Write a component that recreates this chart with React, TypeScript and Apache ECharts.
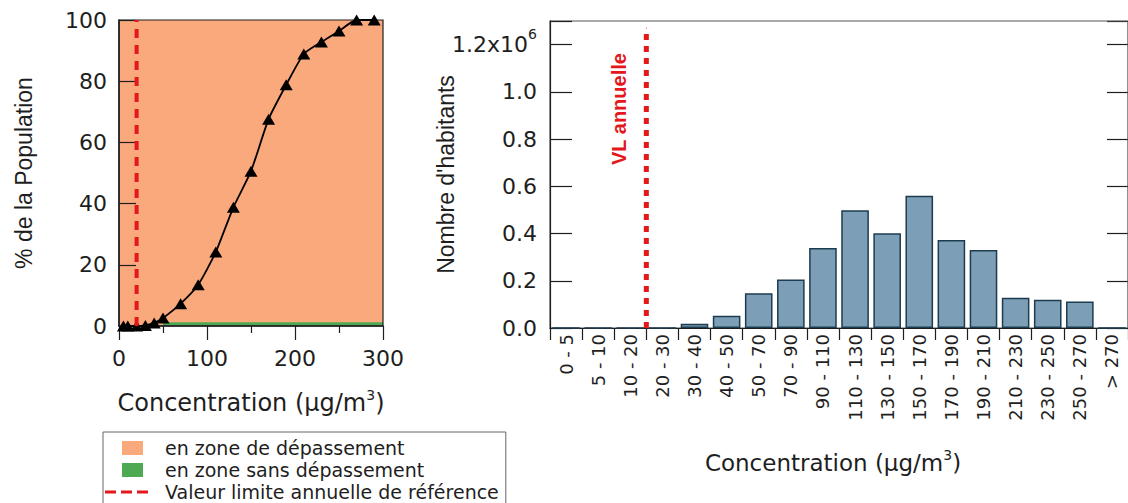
import React, { useEffect, useRef } from 'react';
import * as echarts from 'echarts';

// ---------- Data ----------
// Left panel: cumulative % of population vs concentration (upper bound of each class)
const concentrationSteps = [5, 10, 20, 30, 40, 50, 70, 90, 110, 130, 150, 170, 190, 210, 230, 250, 270, 290];
const cumulativePct = [0, 0, 0, 0.2, 1.0, 2.6, 7.3, 13.5, 24.2, 38.8, 50.6, 67.6, 78.8, 88.9, 92.8, 96.4, 100, 100];
const limitValue = 20; // µg/m3, valeur limite annuelle
const exceedZone = [[0, 100], [300, 100]];
const noExceedZone = [[50, 1.2], [300, 1.2]];

// Right panel: inhabitants per concentration class
const binLabels = [
  '0 - 5', '5 - 10', '10 - 20', '20 - 30', '30 - 40', '40 - 50', '50 - 70', '70 - 90',
  '90 - 110', '110 - 130', '130 - 150', '150 - 170', '170 - 190', '190 - 210',
  '210 - 230', '230 - 250', '250 - 270', '> 270',
];
const habitants = [
  0, 0, 0, 0, 18000, 52000, 147000, 205000, 339000, 499000, 401000, 560000,
  373000, 330000, 128000, 120000, 112000, 0,
];
const vlBoundaryIndex = binLabels.indexOf('20 - 30');
const vlLineTop = 1270000;
const exponentTick = 1200000;

// ---------- Styles ----------
const ORANGE = '#FAA97D';
const GREEN = '#4DAA52';
const RED = '#E3171C';
const BAR = '#7C9EB6';
const BAR_BORDER = '#1D3C4F';
const INK = '#1e1e1e';
const NUM_FONT = 'DejaVu Sans';
const TITLE_FONT = 'Liberation Sans';

const concTitle = '{a|Concentration (µg/m}{s|3}{a|)}';
const concRich = (size: number) => ({
  a: { fontFamily: NUM_FONT, fontSize: size, color: INK, lineHeight: 30 },
  s: { fontFamily: NUM_FONT, fontSize: 14, color: INK, lineHeight: 14, verticalAlign: 'top' },
});

function buildOption(): any {
  return {
    animation: false,
    backgroundColor: '#ffffff',
    grid: [
      { left: 119, top: 20, width: 264, height: 306, show: true, borderColor: INK, borderWidth: 1.2, backgroundColor: 'transparent', z: 1 },
      { left: 550, top: 21, width: 588, height: 307, show: true, borderColor: '#555', borderWidth: 1.2, backgroundColor: 'transparent', z: 1 },
    ],
    xAxis: [
      {
        type: 'value', gridIndex: 0, min: 0, max: 300, interval: 100, z: 1,
        axisLine: { show: true, onZero: false, lineStyle: { color: INK, width: 1.5 } },
        axisTick: { show: true, inside: false, length: 14, lineStyle: { color: INK, width: 1.2 } },
        minorTick: { show: true, splitNumber: 2, length: 7, lineStyle: { color: INK, width: 1.2 } },
        splitLine: { show: false }, minorSplitLine: { show: false },
        axisLabel: { margin: 21, fontFamily: NUM_FONT, fontSize: 22, color: INK },
        name: concTitle, nameLocation: 'middle', nameGap: 62, nameMoveOverlap: false,
        nameTextStyle: { rich: concRich(24) },
      },
      {
        type: 'category', gridIndex: 1, data: binLabels, z: 1,
        axisLine: { show: true, onZero: false, lineStyle: { color: INK, width: 1.2 } },
        axisTick: { show: true, inside: false, length: 12, interval: 0, lineStyle: { color: INK, width: 1.2 } },
        axisLabel: { interval: 0, rotate: 90, margin: 6, fontFamily: NUM_FONT, fontSize: 18, color: INK },
        splitLine: { show: false },
        name: concTitle, nameLocation: 'middle', nameGap: 120, nameMoveOverlap: false,
        nameTextStyle: { rich: concRich(23), padding: [0, 12, 0, 0] },
      },
      { type: 'value', gridIndex: 1, min: 0, max: binLabels.length, show: false },
    ],
    yAxis: [
      {
        type: 'value', gridIndex: 0, min: 0, max: 100, interval: 20, z: 1,
        axisLine: { show: true, lineStyle: { color: INK, width: 1.5 } },
        axisTick: { show: true, inside: true, length: 17, lineStyle: { color: INK, width: 1.2 } },
        splitLine: { show: false },
        axisLabel: { margin: 12, fontFamily: NUM_FONT, fontSize: 22, color: INK },
        name: '% de la Population', nameLocation: 'middle', nameGap: 84, nameRotate: 90, nameMoveOverlap: false,
        nameTextStyle: { fontFamily: TITLE_FONT, fontSize: 23, color: INK },
      },
      {
        type: 'value', gridIndex: 1, min: 0, max: 1300000, interval: 200000, z: 1,
        axisLine: { show: true, lineStyle: { color: INK, width: 1.2 } },
        axisTick: { show: true, inside: true, length: 22, lineStyle: { color: INK, width: 1.2 } },
        splitLine: { show: false },
        axisLabel: {
          margin: 13, fontFamily: NUM_FONT, fontSize: 22, color: INK,
          formatter: (v: number) => {
            if (v > exponentTick + 1) return '';
            if (Math.abs(v - exponentTick) < 1) return '{b|' + (v / 1e6).toFixed(1) + 'x10}{s|6}';
            return (v / 1e6).toFixed(1);
          },
          rich: {
            b: { fontFamily: NUM_FONT, fontSize: 22, color: INK, lineHeight: 36 },
            s: { fontFamily: NUM_FONT, fontSize: 14, color: INK, lineHeight: 14, verticalAlign: 'top' },
          },
        },
        name: "Nombre d'habitants", nameLocation: 'middle', nameGap: 93, nameRotate: 90, nameMoveOverlap: false,
        nameTextStyle: { fontFamily: TITLE_FONT, fontSize: 23, color: INK },
      },
      {
        type: 'value', gridIndex: 1, position: 'right', min: 0, max: 1300000, interval: 200000,
        axisLine: { show: true, lineStyle: { color: INK, width: 1.2 } },
        axisTick: { show: true, inside: true, length: 21, lineStyle: { color: INK, width: 1.2 } },
        axisLabel: { show: false }, splitLine: { show: false },
      },
    ],
    legend: {
      orient: 'vertical', left: 103, top: 432, height: 90,
      padding: [5, 7, 2, 2], itemGap: 0, itemWidth: 55, itemHeight: 14,
      borderColor: '#666', borderWidth: 1, selectedMode: false,
      textStyle: { fontFamily: NUM_FONT, fontSize: 19, lineHeight: 22, color: INK },
      data: [
        { name: 'en zone de dépassement', icon: 'path://M0,0M55,14M17,0h21v14h-21z', itemStyle: { color: ORANGE, borderWidth: 0 } },
        { name: 'en zone sans dépassement', icon: 'path://M0,0M55,14M17,0h21v14h-21z', itemStyle: { color: GREEN, borderWidth: 0 } },
        { name: 'Valeur limite annuelle de référence', icon: 'path://M0,0M55,14M0,5.5h11v3H0z M16,5.5h11v3h-11z M32,5.5h11v3h-11z', itemStyle: { color: RED, borderWidth: 0 } },
      ],
    },
    series: [
      {
        name: 'en zone de dépassement', type: 'line', xAxisIndex: 0, yAxisIndex: 0, z: 0,
        data: exceedZone, symbol: 'none', color: ORANGE,
        lineStyle: { width: 0, color: ORANGE }, areaStyle: { color: ORANGE, opacity: 1 },
      },
      {
        name: 'en zone sans dépassement', type: 'line', xAxisIndex: 0, yAxisIndex: 0, z: 0,
        data: noExceedZone, symbol: 'none', color: GREEN,
        lineStyle: { width: 0, color: GREEN }, areaStyle: { color: GREEN, opacity: 1 },
      },
      {
        name: 'Population cumulée', type: 'line', xAxisIndex: 0, yAxisIndex: 0, z: 2,
        data: concentrationSteps.map((c, i) => [c, cumulativePct[i]]),
        smooth: 0.2, symbol: 'triangle', symbolSize: [13, 11], color: '#000',
        lineStyle: { color: '#000', width: 1.8 }, itemStyle: { color: '#000' },
      },
      {
        name: 'Valeur limite annuelle de référence', type: 'line', xAxisIndex: 0, yAxisIndex: 0, z: 3,
        data: [[limitValue, 0], [limitValue, 100]], symbol: 'none', color: RED,
        lineStyle: { color: RED, width: 4, type: [9, 7] },
      },
      {
        name: "Nombre d'habitants", type: 'bar', xAxisIndex: 1, yAxisIndex: 1, z: 2,
        data: habitants, barCategoryGap: '14%',
        itemStyle: { color: BAR, borderColor: BAR_BORDER, borderWidth: 1.5 },
      },
      {
        name: 'VL annuelle', type: 'line', xAxisIndex: 2, yAxisIndex: 1, z: 4,
        symbol: 'circle', symbolSize: 1, showSymbol: true, color: RED,
        lineStyle: { color: RED, width: 5, type: [6, 6] }, itemStyle: { color: RED },
        data: [
          [vlBoundaryIndex, 0],
          {
            value: [vlBoundaryIndex, vlLineTop],
            label: {
              show: true, formatter: 'VL annuelle', position: 'inside', rotate: 90,
              align: 'right', verticalAlign: 'middle', offset: [-25, -27],
              color: RED, fontSize: 20, fontWeight: 'bold', fontFamily: TITLE_FONT,
            },
          },
        ],
      },
    ],
  };
}

export default function App() {
  const ref = useRef<HTMLDivElement>(null);
  useEffect(() => {
    document.body.style.margin = '0';
    const chart = echarts.init(ref.current as HTMLDivElement, null, { renderer: 'svg' });
    chart.setOption(buildOption());
    return () => chart.dispose();
  }, []);
  return <div ref={ref} style={{ width: 1128, height: 503 }} />;
}
